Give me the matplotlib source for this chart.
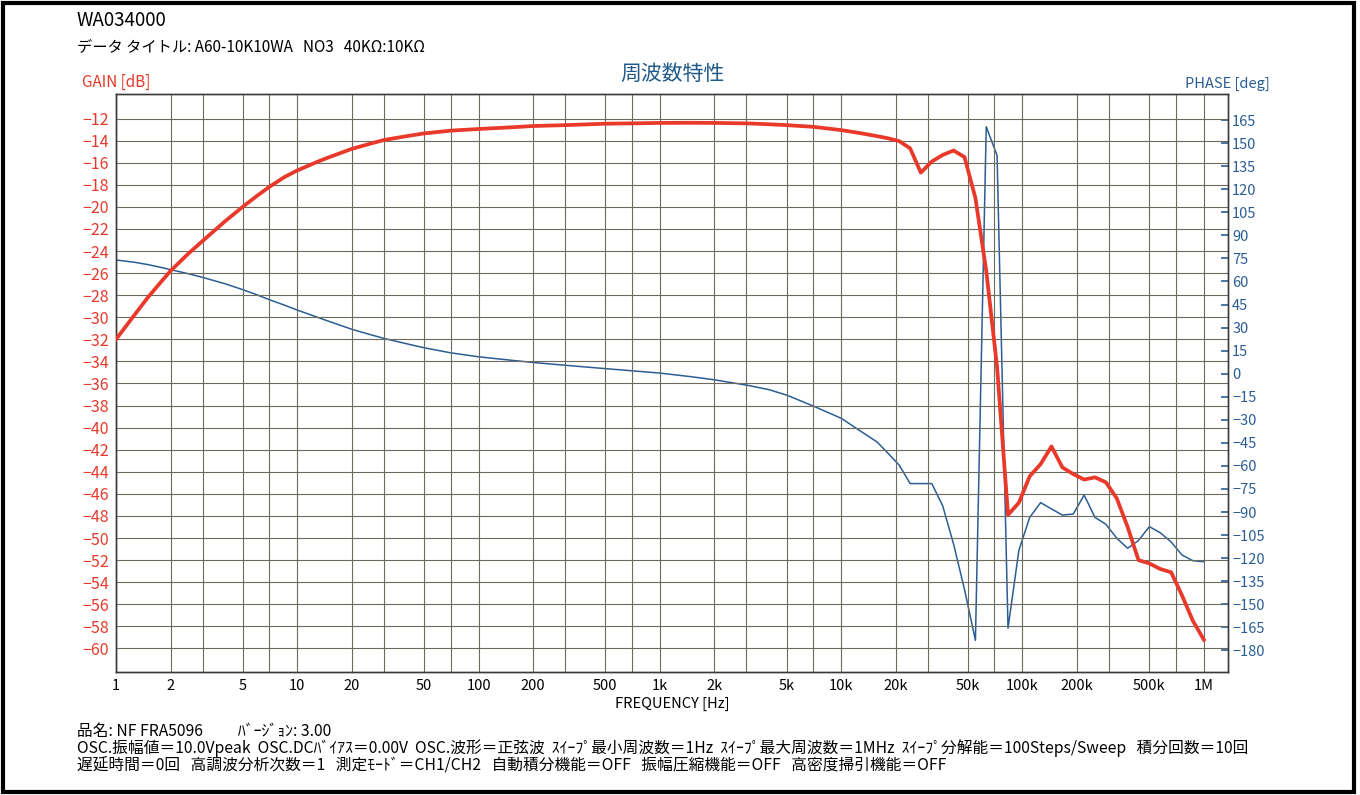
import matplotlib
matplotlib.use("Agg")
import matplotlib.pyplot as plt
from matplotlib.patches import Rectangle

plt.rcParams['font.family'] = ['Noto Sans CJK JP', 'DejaVu Sans']

# measured sweep points (Hz)
freq = [1, 1.25, 1.5, 1.75, 2, 2.5, 3, 4, 5, 6, 7, 8.5, 10, 13, 15, 20, 25, 30, 40, 50,
        70, 100, 150, 200, 300, 500, 700,
        1e3, 1.5e3, 2e3, 3e3, 4e3, 5e3, 7e3, 10e3, 12.5e3,
        15.8e3, 18.2e3, 20.9e3, 24.0e3, 27.5e3, 31.6e3, 36.3e3, 41.7e3, 47.9e3,
        55.0e3, 63.1e3, 72.4e3, 83.2e3, 95.5e3, 109.6e3, 125.9e3, 144.5e3, 166e3,
        190.5e3, 218.8e3, 251.2e3, 288.4e3, 331.1e3, 380.2e3, 436.5e3, 501.2e3,
        575.4e3, 660.7e3, 758.6e3, 871e3, 1e6]

gain_db = [-32.0, -29.9, -28.2, -26.9, -25.8, -24.25, -23.1, -21.3, -20.0, -19.0, -18.2,
           -17.3, -16.7, -15.9, -15.5, -14.75, -14.3, -13.95, -13.6, -13.35,
           -13.1, -12.95, -12.8, -12.68, -12.6, -12.47, -12.44,
           -12.4, -12.39, -12.4, -12.44, -12.52, -12.6, -12.75, -13.05, -13.3,
           -13.6, -13.8, -14.05, -14.7, -16.9, -15.9, -15.3, -14.9, -15.5,
           -19.2, -25.8, -34.5, -47.9, -46.8, -44.4, -43.3, -41.7, -43.6,
           -44.2, -44.7, -44.5, -44.95, -46.4, -49.0, -52.0, -52.3,
           -52.8, -53.1, -55.2, -57.5, -59.2]

phase_deg = [74.0, 72.6, 71.0, 69.3, 67.7, 65.1, 62.7, 58.5, 54.7, 51.3, 48.2,
             44.6, 41.4, 36.6, 34.0, 28.9, 25.6, 23.0, 19.5, 16.9,
             13.6, 11.0, 8.8, 7.3, 5.5, 3.3, 1.9,
             0.4, -2.0, -4.0, -7.4, -10.4, -13.9, -21.0, -29.0, -36.6,
             -44.5, -52.0, -59.5, -71.5, -71.5, -71.5, -86.0, -111.0, -140.5,
             -173.5, 160.7, 142.0, -165.6, -115.0, -93.5, -83.9, -88.0, -92.0,
             -91.3, -79.0, -93.5, -98.0, -107.0, -113.6, -108.5, -99.5,
             -103.5, -109.5, -118.0, -121.7, -122.3]

gain_ticks = list(range(-12, -61, -2))
phase_ticks = list(range(165, -181, -15))
x_label_ticks = [1, 2, 5, 10, 20, 50, 100, 200, 500, 1e3, 2e3, 5e3, 10e3, 20e3, 50e3,
                 100e3, 200e3, 500e3, 1e6]
x_label_text = ['1', '2', '5', '10', '20', '50', '100', '200', '500', '1k', '2k', '5k',
                '10k', '20k', '50k', '100k', '200k', '500k', '1M']
x_grid = [m * 10 ** d for d in range(6) for m in (1, 2, 3, 5, 7)] + [1e6]

RED = '#e8392a'
BLUE = '#2b5d94'
W, H = 1360, 795

fig = plt.figure(figsize=(W / 100, H / 100), dpi=100)
fig.patch.set_facecolor('white')
ax = fig.add_axes([116 / W, 1 - 672 / H, (1228 - 116) / W, (672 - 94) / H])
ax2 = ax.twinx()

ax2.set_zorder(1)
ax.set_zorder(2)
ax.patch.set_visible(False)
ax2.patch.set_facecolor('#fdfdee')

ax.semilogx(freq, gain_db, color=RED, lw=2.7, zorder=5)
ax2.semilogx(freq, phase_deg, color=BLUE, lw=1.1)

ax.set_xlim(1, 1.36e6)
ax.set_ylim(-62.13, -9.78)
ax2.set_ylim(-194.1, 182.0)

ax.set_xticks(x_grid, minor=True)
ax.set_xticks(x_label_ticks)
ax.set_xticklabels(x_label_text, fontsize=10.5)
ax.xaxis.set_minor_formatter(plt.NullFormatter())
ax.tick_params(axis='x', which='both', length=0, pad=5)
ax.grid(True, which='both', axis='x', color='#6c6c5e', lw=0.8)

ax.set_yticks(gain_ticks)
ax.set_yticklabels([f"\u2212{-v}" for v in gain_ticks], fontsize=11.5, color=RED)
ax.tick_params(axis='y', length=0, pad=5)
ax.grid(True, which='major', axis='y', color='#6c6c5e', lw=0.8)

ax2.set_yticks(phase_ticks)
ax2.set_yticklabels([str(v) if v >= 0 else f"\u2212{-v}" for v in phase_ticks],
                    fontsize=10.5, color=BLUE)
ax2.tick_params(axis='y', direction='in', length=5, width=1.2, color=BLUE, pad=3)

for a in (ax, ax2):
    for s in a.spines.values():
        s.set_color('#3a3a3a')
        s.set_linewidth(1.0)

ax.set_xlabel('FREQUENCY [Hz]', fontsize=10.5, labelpad=3)

fig.text(77 / W, 1 - 21 / H, 'WA034000', fontsize=13.5, va='center')
fig.text(77 / W, 1 - 47 / H, 'データ タイトル: A60-10K10WA   NO3   40KΩ:10KΩ',
         fontsize=11, va='center')
fig.text(82 / W, 1 - 82 / H, 'GAIN [dB]', fontsize=11, color=RED, va='center')
fig.text(672 / W, 1 - 74 / H, '周波数特性', fontsize=15, color='#1f5a8a',
         ha='center', va='center')
fig.text(1185 / W, 1 - 84 / H, 'PHASE [deg]', fontsize=10.5, color=BLUE, va='center')

info = [
    '品名: NF FRA5096          ﾊﾞｰｼﾞｮﾝ: 3.00',
    'OSC.振幅値＝10.0Vpeak  OSC.DCﾊﾞｲｱｽ＝0.00V  OSC.波形＝正弦波  ｽｲｰﾌﾟ最小周波数＝1Hz  '
    'ｽｲｰﾌﾟ最大周波数＝1MHz  ｽｲｰﾌﾟ分解能＝100Steps/Sweep   積分回数＝10回',
    '遅延時間＝0回   高調波分析次数＝1   測定ﾓｰﾄﾞ＝CH1/CH2   自動積分機能＝OFF   '
    '振幅圧縮機能＝OFF   高密度掃引機能＝OFF',
]
for i, line in enumerate(info):
    fig.text(77 / W, 1 - (731 + 17.5 * i) / H, line, fontsize=11.3, va='center')

fig.patches.append(Rectangle((3 / W, 3 / H), (W - 9) / W, (H - 6) / H,
                             transform=fig.transFigure, fill=False,
                             edgecolor='black', lw=3))

fig.savefig('out.png', dpi=100)
